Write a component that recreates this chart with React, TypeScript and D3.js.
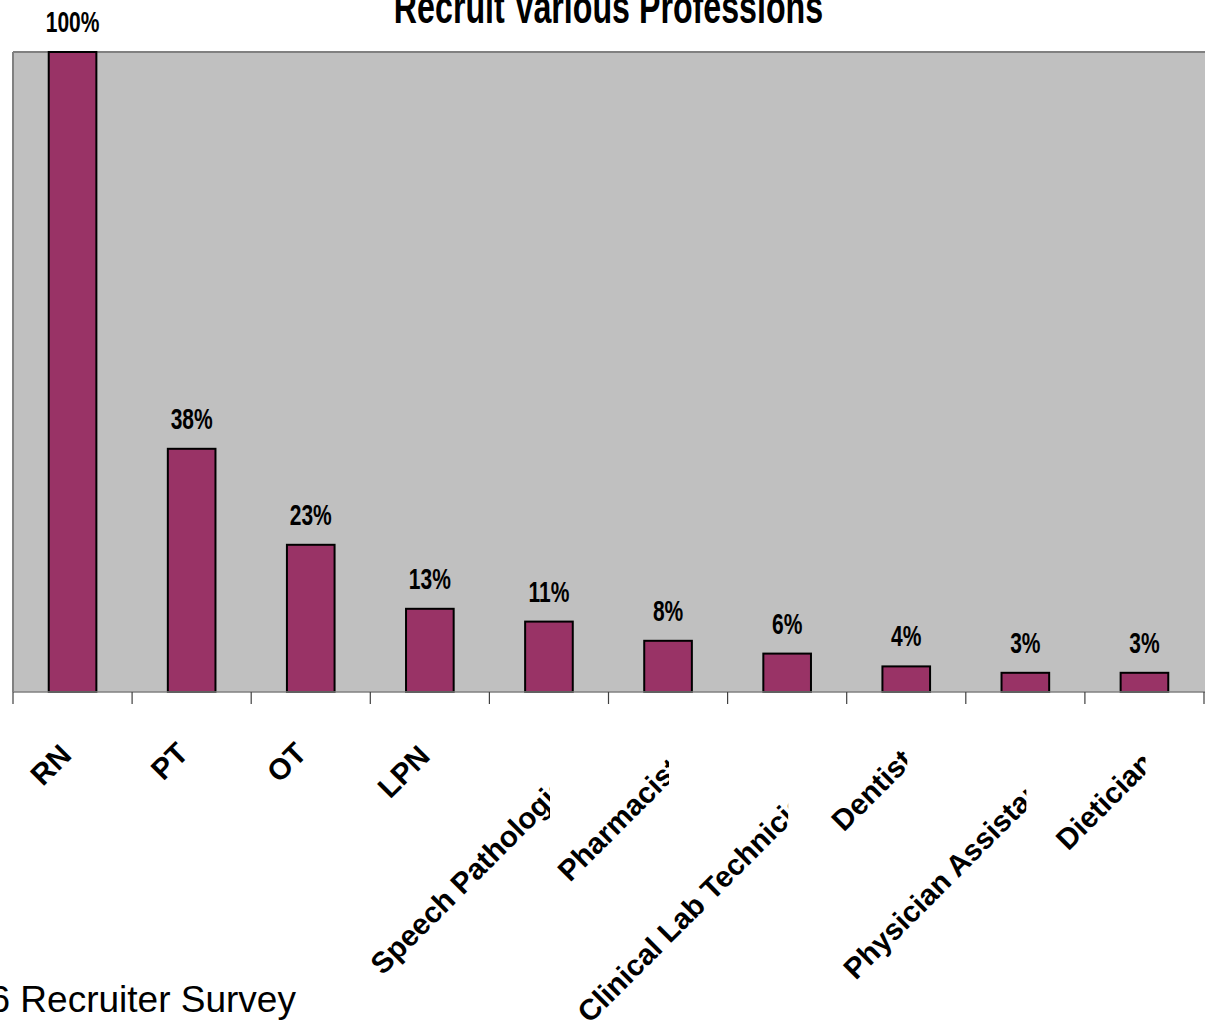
import React from 'react';
import * as d3 from 'd3';

const categories = [
  'RN',
  'PT',
  'OT',
  'LPN',
  'Speech Pathologist',
  'Pharmacist',
  'Clinical Lab Technician',
  'Dentist',
  'Physician Assistant',
  'Dietician',
];
const values = [100, 38, 23, 13, 11, 8, 6, 4, 3, 3];
const title = 'Recruit Various Professions';
const footnote = '6 Recruiter Survey';

// where each rotated label ends, relative to its category centre (Excel staggers them)
const LABEL_DX = [0.4, -1.7, -2.5, 1.8, 27.4, 14.3, 33, 8.3, 26.6, 10.7];
const LABEL_DROP = [65, 63, 63, 66, 90.4, 78.5, 102, 70, 92.6, 72.7];

const WIDTH = 1205;
const HEIGHT = 1025;
const PLOT = { left: 13, right: 1204, top: 52, bottom: 692 };
const FONT = '"Liberation Sans", Arial, sans-serif';

const App: React.FC = () => {
  const x = d3
    .scaleBand<string>()
    .domain(categories)
    .range([PLOT.left, PLOT.right])
    .paddingInner(0.6)
    .paddingOuter(0.3);
  const y = d3.scaleLinear().domain([0, 100]).range([PLOT.bottom, PLOT.top]);

  const step = x.step();
  const ticks = d3.range(categories.length + 1).map((i) => PLOT.left + i * step);
  const centre = (c: string) => (x(c) ?? 0) + x.bandwidth() / 2;

  return (
    <svg
      width={WIDTH}
      height={HEIGHT}
      style={{ position: 'absolute', left: 0, top: 0, background: '#fff' }}
      fontFamily={FONT}
    >
      <defs>
        {categories.map((c, i) => (
          <clipPath id={`lbl-${i}`} key={c}>
            <rect x={centre(c) - 500} y={PLOT.bottom + 2} width={500 + 1} height={HEIGHT} />
          </clipPath>
        ))}
      </defs>

      {/* plot area */}
      <rect
        x={PLOT.left}
        y={PLOT.top}
        width={WIDTH - PLOT.left}
        height={PLOT.bottom - PLOT.top}
        fill="#C0C0C0"
      />
      <line x1={PLOT.left} x2={WIDTH} y1={PLOT.top} y2={PLOT.top} stroke="#808080" strokeWidth={2} />
      <line x1={PLOT.left} x2={PLOT.left} y1={PLOT.top} y2={PLOT.bottom} stroke="#808080" strokeWidth={2} />

      {/* title */}
      <text
        transform={`translate(${(PLOT.left + PLOT.right) / 2},23) scale(0.7,1)`}
        textAnchor="middle"
        fontWeight="bold"
        fontSize={46}
        fill="#000"
      >
        {title}
      </text>

      {/* bars */}
      {categories.map((c, i) => (
        <rect
          key={c}
          x={x(c)}
          y={y(values[i])}
          width={x.bandwidth()}
          height={PLOT.bottom - y(values[i])}
          fill="#993366"
          stroke="#000"
          strokeWidth={2}
        />
      ))}

      {/* value labels */}
      {categories.map((c, i) => (
        <text
          key={c}
          transform={`translate(${centre(c)},${y(values[i]) - 20}) scale(0.7,1)`}
          textAnchor="middle"
          fontWeight="bold"
          fontSize={30}
          fill="#000"
        >
          {`${values[i]}%`}
        </text>
      ))}

      {/* axis */}
      <line x1={PLOT.left} x2={WIDTH} y1={PLOT.bottom} y2={PLOT.bottom} stroke="#808080" strokeWidth={1.5} />
      {ticks.map((t, i) => (
        <line key={i} x1={t} x2={t} y1={PLOT.bottom} y2={PLOT.bottom + 12} stroke="#404040" strokeWidth={1.2} />
      ))}

      {/* category labels */}
      {categories.map((c, i) => (
        <g key={c} clipPath={`url(#lbl-${i})`}>
          <text
            transform={`translate(${centre(c) + LABEL_DX[i]},${PLOT.bottom + LABEL_DROP[i]}) rotate(-45)`}
            textAnchor="end"
            fontWeight="bold"
            fontSize={29.5}
            fill="#000"
          >
            {c}
          </text>
        </g>
      ))}

      {/* source note */}
      <text x={-10.5} y={1012} fontSize={37} fill="#000">
        {footnote}
      </text>
    </svg>
  );
};

export default App;
